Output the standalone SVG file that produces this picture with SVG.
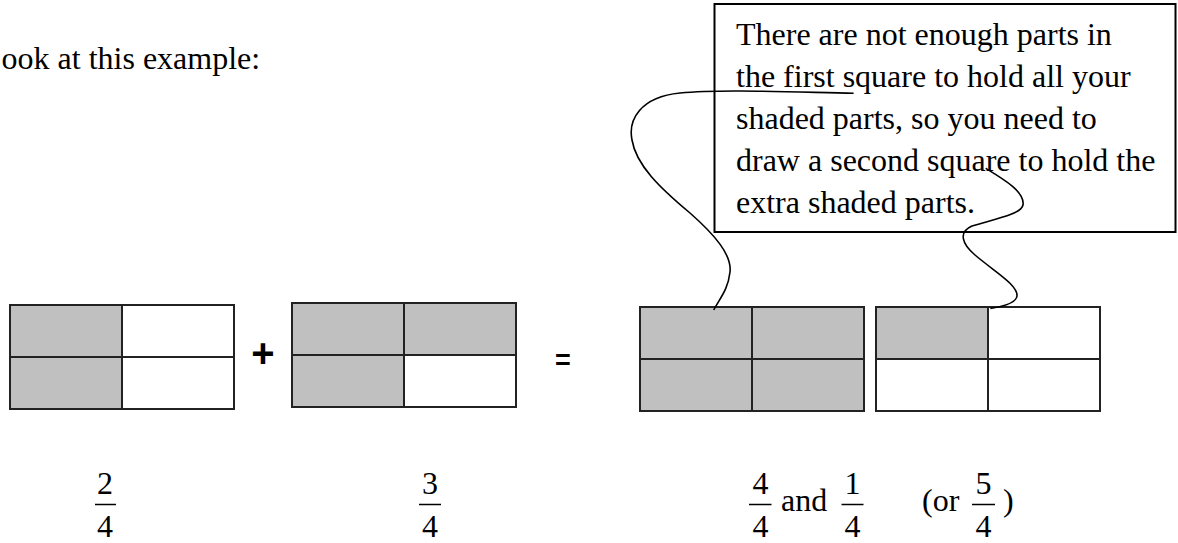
<svg xmlns="http://www.w3.org/2000/svg" width="1178" height="543" viewBox="0 0 1178 543">
<style>
.t{font-family:"Liberation Serif","Times New Roman",serif;font-size:32px;fill:#000}
.shade{fill:#c0c0c0}
.grid{fill:none;stroke:#222;stroke-width:2}
.bar{stroke:#000;stroke-width:1.5}
.conn{fill:none;stroke:#000;stroke-width:1.6}
.op{font-family:"Liberation Sans",Arial,sans-serif;font-weight:bold;fill:#000}
</style>
<rect width="1178" height="543" fill="#fff"/>
<text class="t" x="-18" y="69">Look at this example:</text>

<g id="box1">
<rect class="shade" x="10" y="305" width="112" height="104"/>
<rect class="grid" x="10" y="305" width="224" height="104"/>
<line class="grid" x1="122" y1="305" x2="122" y2="409"/>
<line class="grid" x1="10" y1="357" x2="234" y2="357"/>
</g>

<g id="plus"><text class="op" x="263" y="367" font-size="40" text-anchor="middle">+</text></g>

<g id="box2">
<path class="shade" d="M292,303H516V355H404V407H292Z"/>
<rect class="grid" x="292" y="303" width="224" height="104"/>
<line class="grid" x1="404" y1="303" x2="404" y2="407"/>
<line class="grid" x1="292" y1="355" x2="516" y2="355"/>
</g>

<g id="equals"><text class="op" x="563" y="369" font-size="27" text-anchor="middle">=</text></g>

<g id="box3">
<rect class="shade" x="640" y="307" width="224" height="104"/>
<rect class="grid" x="640" y="307" width="224" height="104"/>
<line class="grid" x1="752" y1="307" x2="752" y2="411"/>
<line class="grid" x1="640" y1="359" x2="864" y2="359"/>
</g>

<g id="box4">
<rect class="shade" x="876" y="307" width="112" height="52"/>
<rect class="grid" x="876" y="307" width="224" height="104"/>
<line class="grid" x1="988" y1="307" x2="988" y2="411"/>
<line class="grid" x1="876" y1="359" x2="1100" y2="359"/>
</g>

<g id="callout">
<rect x="714.5" y="4" width="461" height="228" fill="#fff" stroke="#000" stroke-width="2"/>
<text class="t" x="736" y="45">There are not enough parts in</text>
<text class="t" x="736" y="87">the first square to hold all your</text>
<text class="t" x="736" y="129">shaded parts, so you need to</text>
<text class="t" x="736" y="171">draw a second square to hold the</text>
<text class="t" x="736" y="213">extra shaded parts.</text>
</g>

<g id="connectors">
<path class="conn" d="M853.6,93.3 C790,92 720,89 680,93 C640,97 628,120 632,140 C636,165 660,188 690,213 C715,235 732,255 730,272 C728,290 720,298 713.7,310"/>
<path class="conn" d="M985.7,168.3 C1005,180 1025,192 1023,205 C1021,215 990,220 972,226 C958,232 962,244 975,255 C995,272 1018,285 1017,296 C1016,304 1000,307 990.4,308.5"/>
</g>

<g id="frac1">
<text class="t" x="105" y="494" text-anchor="middle">2</text>
<line class="bar" x1="95" y1="504.5" x2="116" y2="504.5"/>
<text class="t" x="105" y="537" text-anchor="middle">4</text>
</g>
<g id="frac2">
<text class="t" x="430" y="494" text-anchor="middle">3</text>
<line class="bar" x1="419" y1="504.5" x2="441" y2="504.5"/>
<text class="t" x="430" y="537" text-anchor="middle">4</text>
</g>
<g id="frac3">
<text class="t" x="760.5" y="494" text-anchor="middle">4</text>
<line class="bar" x1="749" y1="504.5" x2="771.5" y2="504.5"/>
<text class="t" x="760.5" y="537" text-anchor="middle">4</text>
<text class="t" x="781" y="511">and</text>
<text class="t" x="852.5" y="494" text-anchor="middle">1</text>
<line class="bar" x1="841.5" y1="504.5" x2="863.5" y2="504.5"/>
<text class="t" x="852.5" y="537" text-anchor="middle">4</text>
<text class="t" x="922" y="511">(or</text>
<text class="t" x="983.5" y="494" text-anchor="middle">5</text>
<line class="bar" x1="972" y1="504.5" x2="995" y2="504.5"/>
<text class="t" x="983.5" y="537" text-anchor="middle">4</text>
<text class="t" x="1003" y="511">)</text>
</g>
</svg>
